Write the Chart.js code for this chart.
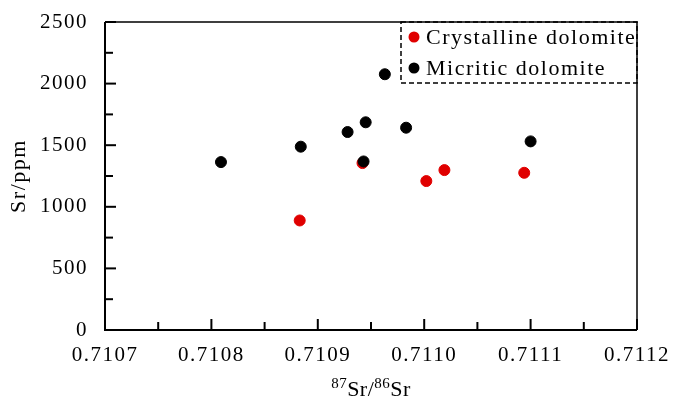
<!DOCTYPE html>
<html>
<head>
<meta charset="utf-8">
<script src="https://cdn.jsdelivr.net/npm/chart.js@4.4.0/dist/chart.umd.min.js"></script>
<style>
  html, body { margin: 0; padding: 0; background: #fff; }
  #contenedor { width: 673px; height: 399px; }
</style>
</head>
<body>
<div id="contenedor"><canvas id="grafico"></canvas></div>
<script>
// ==========================
//  Datos
// ==========================
const nombresSeries = ["Crystalline dolomite", "Micritic dolomite"];

const cristalinaX = [0.710883, 0.710942, 0.711002, 0.711019, 0.711094];
const cristalinaY = [889, 1355, 1209, 1298, 1276];

const microX = [0.710809, 0.710884, 0.710928, 0.710945, 0.710943, 0.710963, 0.710983, 0.711100];
const microY = [1363, 1488, 1607, 1686, 1368, 2076, 1642, 1531];

const ticksX = [0.7107, 0.7108, 0.7109, 0.7110, 0.7111, 0.7112];
const ticksY = [0, 500, 1000, 1500, 2000, 2500];

// titulo X en partes: [texto, superindice?]
const tituloX = [["87", true], ["Sr/", false], ["86", true], ["Sr", false]];
const tituloY = "Sr/ppm";

const fuente = "'Liberation Serif', 'Times New Roman', serif";

// ticks mayores + menores (punto medio)
function conMenores(mayores) {
  const res = [];
  mayores.forEach((v, i) => {
    res.push({ value: v });
    if (i < mayores.length - 1) res.push({ value: (v + mayores[i + 1]) / 2 });
  });
  return res;
}

function esMayor(valor, mayores) {
  return mayores.some((m) => Math.abs(m - valor) < 1e-9 * Math.max(1, Math.abs(m)));
}

// sin relleno automatico alrededor de las etiquetas
function sinRelleno(s) {
  s.paddingTop = 0;
  s.paddingBottom = 0;
  s.paddingLeft = 0;
  s.paddingRight = 0;
}

// ==========================
//  Plugin: marco, ticks hacia dentro, leyenda punteada y titulo X
// ==========================
const marcoPlugin = {
  id: "marco",
  beforeDraw(chart) {
    chart.ctx.letterSpacing = "1.5px";
  },
  afterDatasetsDraw(chart) {
    const { ctx, chartArea: a, scales } = chart;
    ctx.save();
    ctx.strokeStyle = "#000";
    ctx.lineCap = "butt";

    // ejes izquierdo e inferior
    ctx.lineWidth = 2;
    ctx.beginPath();
    ctx.moveTo(a.left, a.top);
    ctx.lineTo(a.left, a.bottom);
    ctx.lineTo(a.right, a.bottom);
    ctx.stroke();

    // marco superior y derecho
    ctx.lineWidth = 1.5;
    ctx.beginPath();
    ctx.moveTo(a.left, a.top);
    ctx.lineTo(a.right, a.top);
    ctx.lineTo(a.right, a.bottom);
    ctx.stroke();

    // ticks hacia dentro
    ctx.lineWidth = 2;
    scales.x.ticks.forEach((t) => {
      const px = scales.x.getPixelForValue(t.value);
      const largo = esMayor(t.value, ticksX) ? 11 : 8;
      ctx.beginPath();
      ctx.moveTo(px, a.bottom);
      ctx.lineTo(px, a.bottom - largo);
      ctx.stroke();
    });
    scales.y.ticks.forEach((t) => {
      const py = scales.y.getPixelForValue(t.value);
      const largo = esMayor(t.value, ticksY) ? 11 : 8;
      ctx.beginPath();
      ctx.moveTo(a.left, py);
      ctx.lineTo(a.left + largo, py);
      ctx.stroke();
    });

    // leyenda con borde punteado
    const ancho = 236, alto = 61;
    const x0 = a.right - ancho, y0 = a.top;
    ctx.lineWidth = 1.5;
    ctx.setLineDash([5, 3]);
    ctx.strokeRect(x0, y0, ancho, alto);
    ctx.setLineDash([]);

    ctx.font = "22px " + fuente;
    ctx.textBaseline = "middle";
    ctx.textAlign = "left";
    chart.data.datasets.forEach((ds, i) => {
      const cy = y0 + 15 + i * 31;
      ctx.fillStyle = ds.backgroundColor;
      ctx.beginPath();
      ctx.arc(x0 + 13, cy, 5.5, 0, Math.PI * 2);
      ctx.fill();
      ctx.fillStyle = "#000";
      ctx.fillText(ds.label, x0 + 25, cy + 1);
    });

    // titulo X con superindices
    ctx.letterSpacing = "0.5px";
    ctx.textBaseline = "alphabetic";
    const fuenteDe = (sup) => (sup ? "15px " : "22px ") + fuente;
    let total = 0;
    tituloX.forEach(([txt, sup]) => {
      ctx.font = fuenteDe(sup);
      total += ctx.measureText(txt).width;
    });
    let x = (a.left + a.right) / 2 - total / 2;
    const base = 396;
    tituloX.forEach(([txt, sup]) => {
      ctx.font = fuenteDe(sup);
      ctx.fillText(txt, x, sup ? base - 8 : base);
      x += ctx.measureText(txt).width;
    });
    ctx.restore();
  },
};

// ==========================
//  Grafico
// ==========================
const ctx = document.getElementById("grafico").getContext("2d");
new Chart(ctx, {
  type: "scatter",
  data: {
    datasets: [
      {
        label: nombresSeries[0],
        data: cristalinaX.map((x, i) => ({ x: x, y: cristalinaY[i] })),
        backgroundColor: "#e00000",
        borderColor: "#e00000",
        pointRadius: 5.5,
        order: 2,
      },
      {
        label: nombresSeries[1],
        data: microX.map((x, i) => ({ x: x, y: microY[i] })),
        backgroundColor: "#000000",
        borderColor: "#000000",
        pointRadius: 5.5,
        order: 1,
      },
    ],
  },
  options: {
    responsive: true,
    maintainAspectRatio: false,
    animation: false,
    layout: { autoPadding: false, padding: { top: 22, right: 36, left: 0, bottom: 0 } },
    plugins: {
      legend: { display: false },
      tooltip: { enabled: false },
    },
    scales: {
      x: {
        type: "linear",
        min: ticksX[0],
        max: ticksX[ticksX.length - 1],
        afterBuildTicks: (s) => { s.ticks = conMenores(ticksX); },
        afterFit: (s) => { s.height = 69; sinRelleno(s); },
        grid: { display: false, drawTicks: false },
        border: { display: false },
        ticks: {
          autoSkip: false,
          maxRotation: 0,
          padding: 13,
          color: "#000",
          font: { family: fuente, size: 21 },
          callback: (v) => (esMayor(v, ticksX) ? v.toFixed(4) : ""),
        },
      },
      y: {
        type: "linear",
        min: ticksY[0],
        max: ticksY[ticksY.length - 1],
        afterBuildTicks: (s) => { s.ticks = conMenores(ticksY); },
        afterFit: (s) => { s.width = 105; sinRelleno(s); },
        grid: { display: false, drawTicks: false },
        border: { display: false },
        ticks: {
          autoSkip: false,
          padding: 17,
          color: "#000",
          font: { family: fuente, size: 21 },
          callback: (v) => (esMayor(v, ticksY) ? String(v) : ""),
        },
        title: {
          display: true,
          text: tituloY,
          color: "#000",
          font: { family: fuente, size: 22 },
          padding: { top: 6, bottom: 0 },
        },
      },
    },
  },
  plugins: [marcoPlugin],
});
</script>
</body>
</html>
